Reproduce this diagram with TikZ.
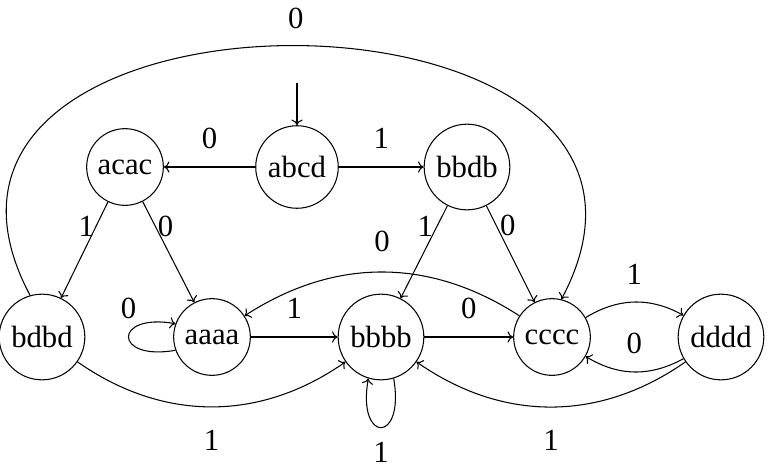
\documentclass[tikz,border=0pt]{standalone}
\usepackage{fontspec}
\setmainfont{Liberation Serif}
\usepackage{tikz}
\usetikzlibrary{arrows.meta, positioning}
\tikzset{
  statenode/.style={circle, draw, inner sep=4.5pt, line width=0.6pt},
  arrow/.style={-{To[length=3.2pt,width=6.4pt]}, line width=0.6pt},
  lbl/.style={inner sep=0pt}
}

\begin{document}
\begin{tikzpicture}[x=0.02cm, y=0.02cm, every node/.style={font=\fontsize{17.5}{20}\selectfont}]
  \useasboundingbox (0,0) rectangle (769,-471);

  \node[statenode] (abcd) at (297,-167) {abcd};
  \node[statenode] (acac) at (125,-167) {acac};
  \node[statenode] (bbdb) at (467,-167) {bbdb};
  \node[statenode] (bdbd) at (42,-337) {bdbd};
  \node[statenode] (aaaa) at (212,-337) {aaaa};
  \node[statenode] (bbbb) at (381,-337) {bbbb};
  \node[statenode] (cccc) at (552,-337) {cccc};
  \node[statenode] (dddd) at (721,-337) {dddd};
  \coordinate (start) at (297,-83);

  \draw[arrow] (start) -- (abcd);
  \draw[arrow] (abcd) -- node[lbl, above=10pt] {0} (acac);
  \draw[arrow] (abcd) -- node[lbl, above=10pt] {1} (bbdb);

  \draw[arrow] (acac) -- node[lbl, pos=0.25, left=1pt] {1} (bdbd);
  \draw[arrow] (acac) -- node[lbl, pos=0.25, right=1pt] {0} (aaaa);
  \draw[arrow] (bbdb) -- node[lbl, pos=0.22, left=2pt] {1} (bbbb);
  \draw[arrow] (bbdb) -- node[lbl, pos=0.2, right=2pt] {0} (cccc);

  \draw[arrow] (aaaa) -- node[lbl, above=10pt] {1} (bbbb);
  \draw[arrow] (bbbb) -- node[lbl, above=10pt] {0} (cccc);
  \draw[arrow] (cccc) to[bend left=30] node[lbl, above=9.5pt] {1} (dddd);
  \draw[arrow] (dddd) to[bend left=30] node[lbl, above=10pt] {0} (cccc);
  \draw[arrow] (cccc) to[bend right=33] node[lbl, above=11pt] {0} (aaaa);

  \draw[arrow] (aaaa.200) to[out=190, in=170, distance=1.27cm] node[lbl, above=10pt] {0} (aaaa.160);
  \draw[arrow] (bbbb.287) to[out=280, in=260, distance=1.33cm] node[lbl, below=8pt] {1} (bbbb.253);

  \draw[arrow] (bdbd) to[bend right=35] node[lbl, below=13pt] {1} (bbbb);
  \draw[arrow] (dddd) to[bend left=35] node[lbl, below=13pt] {1} (bbbb);
  \draw[arrow] (bdbd.106) .. controls +(118:380) and +(62:380) .. node[lbl, above=9.5pt] {0} (cccc.76);
\end{tikzpicture}
\end{document}
